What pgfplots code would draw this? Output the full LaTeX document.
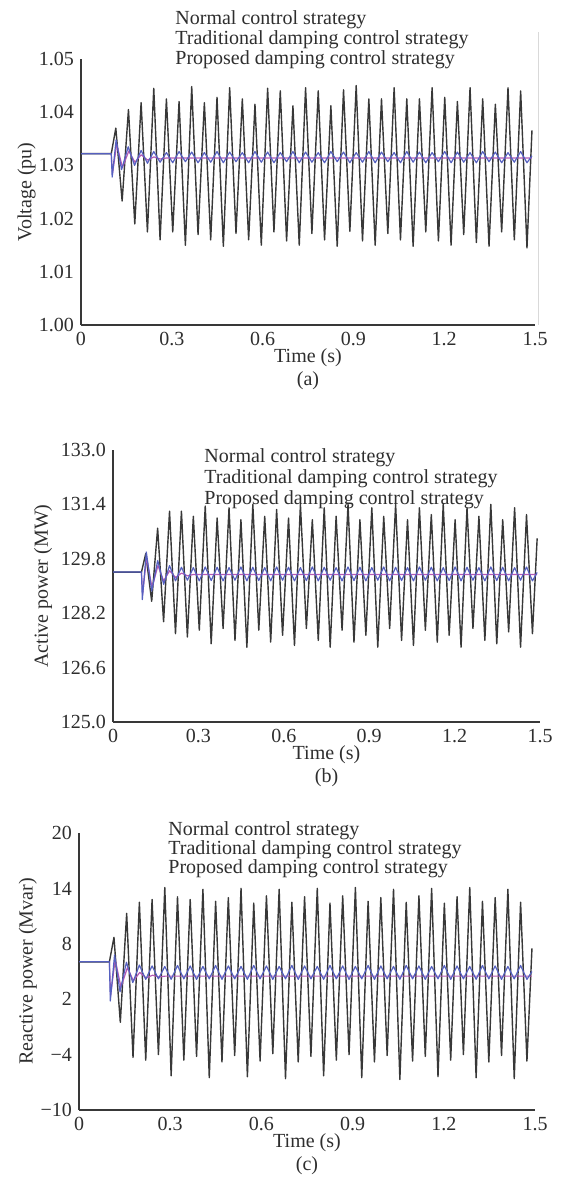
\documentclass[border=0pt]{standalone}
\usepackage{fontspec}
\setmainfont{Liberation Serif}
\usepackage{pgfplots}
\pgfplotsset{compat=1.18}
\definecolor{blk}{HTML}{383838}
\definecolor{trad}{HTML}{5560C0}
\definecolor{prop}{HTML}{B45AB4}
\definecolor{txt}{HTML}{2E2E2E}
\newcommand{\fs}{\fontsize{10}{10}\selectfont}
\pgfplotsset{
  panel/.style={
    scale only axis, axis lines=left, clip=false,
    axis line style={-, line width=0.8pt, color=blk},
    xmin=0, xmax=1.5,
    xtick={0,0.3,0.6,0.9,1.2,1.5},
    xticklabels={0,0.3,0.6,0.9,1.2,1.5},
    major tick length=0pt,
    tick label style={font=\fs, text=txt},
    label style={font=\fs, text=txt},
    /pgf/number format/assume math mode=true,
    xlabel={Time (s)},
    xlabel style={at={(axis description cs:0.5,0)}, anchor=center, yshift=-16.5pt},
    every axis plot/.append style={line width=0.6pt, line join=round},
  }
}
\begin{document}
\begin{tikzpicture}
\useasboundingbox (0,0) rectangle (287pt,589pt);
% ---------------- (a)
\begin{axis}[panel, at={(40.5pt,426.5pt)}, anchor=south west, width=227pt, height=133pt,
  ymin=1.00, ymax=1.05, ytick={1.00,1.01,1.02,1.03,1.04,1.05},
  yticklabels={1.00,1.01,1.02,1.03,1.04,1.05},
  ylabel={Voltage (pu)}, ylabel style={at={(axis description cs:-0.12,0.5)}, anchor=center}]
\draw[black!15, line width=0.6pt] (axis description cs:1.008,0) -- (axis description cs:1.008,1.1);
\addplot[blk, line width=0.7pt] coordinates {(0,1.0322)(0.100,1.0322)(0.1150,1.0370)(0.1359,1.0233)(0.1568,1.0405)(0.1777,1.0190)(0.1986,1.0418)(0.2195,1.0175)(0.2404,1.0445)(0.2613,1.0160)(0.2822,1.0425)(0.3031,1.0175)(0.3240,1.0420)(0.3449,1.0150)(0.3658,1.0448)(0.3867,1.0170)(0.4076,1.0418)(0.4285,1.0160)(0.4494,1.0428)(0.4703,1.0148)(0.4912,1.0446)(0.5121,1.0172)(0.5330,1.0425)(0.5539,1.0160)(0.5748,1.0415)(0.5957,1.0150)(0.6166,1.0445)(0.6375,1.0175)(0.6584,1.0440)(0.6793,1.0158)(0.7002,1.0412)(0.7211,1.0150)(0.7420,1.0446)(0.7629,1.0172)(0.7838,1.0440)(0.8047,1.0160)(0.8256,1.0412)(0.8465,1.0148)(0.8674,1.0442)(0.8883,1.0176)(0.9092,1.0450)(0.9301,1.0158)(0.9510,1.0425)(0.9719,1.0150)(0.9928,1.0425)(1.0137,1.0172)(1.0346,1.0446)(1.0555,1.0160)(1.0764,1.0425)(1.0973,1.0148)(1.1182,1.0425)(1.1391,1.0175)(1.1600,1.0446)(1.1809,1.0158)(1.2018,1.0428)(1.2227,1.0150)(1.2436,1.0420)(1.2645,1.0170)(1.2854,1.0446)(1.3063,1.0155)(1.3272,1.0425)(1.3481,1.0148)(1.3690,1.0415)(1.3899,1.0175)(1.4108,1.0446)(1.4317,1.0160)(1.4526,1.0440)(1.4735,1.0145)(1.4900,1.0366)};
\addplot[prop] coordinates {(0.100,1.0322)(0.1040,1.0284)(0.1180,1.0340)(0.1370,1.0296)(0.1580,1.0327)(0.1780,1.0306)(0.1990,1.0320)(0.2200,1.0310)(0.2410,1.0316)(0.2620,1.0312)(0.2830,1.0314)(1.4900,1.0314)};
\addplot[trad] coordinates {(0,1.0322)(0.100,1.0322)(0.1030,1.0278)(0.1160,1.0348)(0.1340,1.0292)(0.1560,1.0335)(0.1770,1.0300)(0.1986,1.0328)(0.2195,1.0304)(0.2404,1.0326)(0.2613,1.0306)(0.2822,1.0324)(0.3031,1.0305)(0.3240,1.0326)(0.3449,1.0307)(0.3658,1.0325)(0.3867,1.0305)(0.4076,1.0324)(0.4285,1.0306)(0.4494,1.0326)(0.4703,1.0305)(0.4912,1.0325)(0.5121,1.0307)(0.5330,1.0324)(0.5539,1.0305)(0.5748,1.0326)(0.5957,1.0306)(0.6166,1.0325)(0.6375,1.0305)(0.6584,1.0324)(0.6793,1.0307)(0.7002,1.0326)(0.7211,1.0305)(0.7420,1.0325)(0.7629,1.0306)(0.7838,1.0324)(0.8047,1.0305)(0.8256,1.0326)(0.8465,1.0307)(0.8674,1.0325)(0.8883,1.0305)(0.9092,1.0324)(0.9301,1.0306)(0.9510,1.0326)(0.9719,1.0305)(0.9928,1.0325)(1.0137,1.0307)(1.0346,1.0324)(1.0555,1.0305)(1.0764,1.0326)(1.0973,1.0306)(1.1182,1.0325)(1.1391,1.0305)(1.1600,1.0324)(1.1809,1.0307)(1.2018,1.0326)(1.2227,1.0305)(1.2436,1.0325)(1.2645,1.0306)(1.2854,1.0324)(1.3063,1.0305)(1.3272,1.0326)(1.3481,1.0307)(1.3690,1.0325)(1.3899,1.0305)(1.4108,1.0324)(1.4317,1.0306)(1.4526,1.0326)(1.4735,1.0305)(1.4900,1.0318)};
\node[font=\fs, text=txt] at (axis description cs:0.5,0) [yshift=-28pt] {(a)};
\end{axis}
\node[anchor=west, inner sep=0pt, font=\fs, text=txt] at (87.5pt,579pt) {Normal control strategy};
\node[anchor=west, inner sep=0pt, font=\fs, text=txt] at (87.5pt,569pt) {Traditional damping control strategy};
\node[anchor=west, inner sep=0pt, font=\fs, text=txt] at (87.5pt,559pt) {Proposed damping control strategy};
% ---------------- (b)
\begin{axis}[panel, at={(56.5pt,228pt)}, anchor=south west, width=213.5pt, height=136pt,
  ymin=125, ymax=133, ytick={125,126.6,128.2,129.8,131.4,133},
  yticklabels={125.0,126.6,128.2,129.8,131.4,133.0},
  ylabel={Active power (MW)}, ylabel style={at={(axis description cs:-0.164,0.5)}, anchor=center}]
\addplot[blk, line width=0.7pt] coordinates {(0,129.41)(0.100,129.41)(0.1150,129.95)(0.1359,128.55)(0.1568,130.70)(0.1777,127.95)(0.1986,131.20)(0.2195,127.60)(0.2404,131.20)(0.2613,127.50)(0.2822,131.05)(0.3031,127.70)(0.3240,131.35)(0.3449,127.30)(0.3658,131.00)(0.3867,127.75)(0.4076,131.30)(0.4285,127.40)(0.4494,130.95)(0.4703,127.20)(0.4912,131.40)(0.5121,127.70)(0.5330,131.05)(0.5539,127.35)(0.5748,131.25)(0.5957,127.55)(0.6166,131.00)(0.6375,127.25)(0.6584,131.40)(0.6793,127.75)(0.7002,130.95)(0.7211,127.40)(0.7420,131.30)(0.7629,127.20)(0.7838,131.05)(0.8047,127.70)(0.8256,131.40)(0.8465,127.35)(0.8674,130.95)(0.8883,127.55)(0.9092,131.30)(0.9301,127.20)(0.9510,131.05)(0.9719,127.75)(0.9928,131.40)(1.0137,127.40)(1.0346,130.95)(1.0555,127.25)(1.0764,131.30)(1.0973,127.70)(1.1182,131.10)(1.1391,127.35)(1.1600,131.40)(1.1809,127.55)(1.2018,130.95)(1.2227,127.20)(1.2436,131.30)(1.2645,127.75)(1.2854,131.05)(1.3063,127.40)(1.3272,131.40)(1.3481,127.30)(1.3690,130.95)(1.3899,127.65)(1.4108,131.30)(1.4317,127.20)(1.4526,131.10)(1.4735,127.60)(1.4900,130.40)};
\addplot[prop] coordinates {(0.100,129.41)(0.1040,128.75)(0.1180,129.85)(0.1370,128.95)(0.1580,129.60)(0.1780,129.15)(0.1990,129.45)(0.2200,129.25)(0.2410,129.38)(0.2620,129.30)(0.2830,129.34)(1.4900,129.34)};
\addplot[trad] coordinates {(0,129.41)(0.100,129.41)(0.1030,128.60)(0.1170,130.00)(0.1360,128.85)(0.1570,129.75)(0.1780,129.05)(0.1986,129.60)(0.2195,129.15)(0.2404,129.55)(0.2613,129.17)(0.2822,129.54)(0.3031,129.15)(0.3240,129.56)(0.3449,129.16)(0.3658,129.55)(0.3867,129.15)(0.4076,129.54)(0.4285,129.17)(0.4494,129.56)(0.4703,129.15)(0.4912,129.55)(0.5121,129.16)(0.5330,129.54)(0.5539,129.15)(0.5748,129.56)(0.5957,129.17)(0.6166,129.55)(0.6375,129.15)(0.6584,129.54)(0.6793,129.16)(0.7002,129.56)(0.7211,129.15)(0.7420,129.55)(0.7629,129.17)(0.7838,129.54)(0.8047,129.15)(0.8256,129.56)(0.8465,129.16)(0.8674,129.55)(0.8883,129.15)(0.9092,129.54)(0.9301,129.17)(0.9510,129.56)(0.9719,129.15)(0.9928,129.55)(1.0137,129.16)(1.0346,129.54)(1.0555,129.15)(1.0764,129.56)(1.0973,129.17)(1.1182,129.55)(1.1391,129.15)(1.1600,129.54)(1.1809,129.16)(1.2018,129.56)(1.2227,129.15)(1.2436,129.55)(1.2645,129.17)(1.2854,129.54)(1.3063,129.15)(1.3272,129.56)(1.3481,129.16)(1.3690,129.55)(1.3899,129.15)(1.4108,129.54)(1.4317,129.17)(1.4526,129.56)(1.4735,129.15)(1.4900,129.40)};
\node[font=\fs, text=txt] at (axis description cs:0.5,0) [yshift=-28pt] {(b)};
\end{axis}
\node[anchor=west, inner sep=0pt, font=\fs, text=txt] at (102pt,360pt) {Normal control strategy};
\node[anchor=west, inner sep=0pt, font=\fs, text=txt] at (102pt,349.5pt) {Traditional damping control strategy};
\node[anchor=west, inner sep=0pt, font=\fs, text=txt] at (102pt,339pt) {Proposed damping control strategy};
% ---------------- (c)
\begin{axis}[panel, at={(39.5pt,34pt)}, anchor=south west, width=228pt, height=138.5pt,
  ymin=-10, ymax=20, ytick={-10,-4,2,8,14,20},
  yticklabels={−10,−4,2,8,14,20},
  ylabel={Reactive power (Mvar)}, ylabel style={at={(axis description cs:-0.112,0.5)}, anchor=center}]
\addplot[blk, line width=0.7pt] coordinates {(0,6.05)(0.100,6.05)(0.1150,8.70)(0.1359,-0.50)(0.1568,11.30)(0.1777,-4.30)(0.1986,12.50)(0.2195,-4.60)(0.2404,12.80)(0.2613,-4.00)(0.2822,14.10)(0.3031,-6.30)(0.3240,13.10)(0.3449,-4.60)(0.3658,12.80)(0.3867,-4.20)(0.4076,13.90)(0.4285,-6.50)(0.4494,12.60)(0.4703,-4.80)(0.4912,13.00)(0.5121,-4.10)(0.5330,14.00)(0.5539,-6.40)(0.5748,12.40)(0.5957,-4.70)(0.6166,13.20)(0.6375,-3.90)(0.6584,13.90)(0.6793,-6.60)(0.7002,12.50)(0.7211,-4.80)(0.7420,13.10)(0.7629,-4.20)(0.7838,14.00)(0.8047,-6.30)(0.8256,12.40)(0.8465,-4.60)(0.8674,13.20)(0.8883,-4.00)(0.9092,14.10)(0.9301,-6.50)(0.9510,12.60)(0.9719,-4.80)(0.9928,13.00)(1.0137,-4.10)(1.0346,13.90)(1.0555,-6.70)(1.0764,12.50)(1.0973,-4.70)(1.1182,13.20)(1.1391,-4.20)(1.1600,14.00)(1.1809,-6.40)(1.2018,12.40)(1.2227,-4.60)(1.2436,13.10)(1.2645,-4.00)(1.2854,14.10)(1.3063,-6.50)(1.3272,12.60)(1.3481,-4.80)(1.3690,13.00)(1.3899,-4.10)(1.4108,13.90)(1.4317,-6.60)(1.4526,12.50)(1.4735,-4.70)(1.4900,7.50)};
\addplot[prop] coordinates {(0.100,6.05)(0.1040,2.40)(0.1190,6.30)(0.1380,3.30)(0.1590,5.40)(0.1790,4.00)(0.2000,4.90)(0.2210,4.30)(0.2420,4.60)(0.2630,4.40)(0.2840,4.50)(1.4900,4.50)};
\addplot[trad] coordinates {(0,6.05)(0.100,6.05)(0.1030,1.80)(0.1170,6.80)(0.1350,2.80)(0.1560,6.00)(0.1770,3.80)(0.1986,5.70)(0.2195,4.15)(0.2404,5.60)(0.2613,4.20)(0.2822,5.55)(0.3031,4.15)(0.3240,5.65)(0.3449,4.20)(0.3658,5.60)(0.3867,4.15)(0.4076,5.55)(0.4285,4.20)(0.4494,5.65)(0.4703,4.15)(0.4912,5.60)(0.5121,4.20)(0.5330,5.55)(0.5539,4.15)(0.5748,5.65)(0.5957,4.20)(0.6166,5.60)(0.6375,4.15)(0.6584,5.55)(0.6793,4.20)(0.7002,5.65)(0.7211,4.15)(0.7420,5.60)(0.7629,4.20)(0.7838,5.55)(0.8047,4.15)(0.8256,5.65)(0.8465,4.20)(0.8674,5.60)(0.8883,4.15)(0.9092,5.55)(0.9301,4.20)(0.9510,5.65)(0.9719,4.15)(0.9928,5.60)(1.0137,4.20)(1.0346,5.55)(1.0555,4.15)(1.0764,5.65)(1.0973,4.20)(1.1182,5.60)(1.1391,4.15)(1.1600,5.55)(1.1809,4.20)(1.2018,5.65)(1.2227,4.15)(1.2436,5.60)(1.2645,4.20)(1.2854,5.55)(1.3063,4.15)(1.3272,5.65)(1.3481,4.20)(1.3690,5.60)(1.3899,4.15)(1.4108,5.55)(1.4317,4.20)(1.4526,5.65)(1.4735,4.15)(1.4900,5.00)};
\node[font=\fs, text=txt] at (axis description cs:0.5,0) [yshift=-28pt] {(c)};
\end{axis}
\node[anchor=west, inner sep=0pt, font=\fs, text=txt] at (84pt,173.5pt) {Normal control strategy};
\node[anchor=west, inner sep=0pt, font=\fs, text=txt] at (84pt,164pt) {Traditional damping control strategy};
\node[anchor=west, inner sep=0pt, font=\fs, text=txt] at (84pt,154.5pt) {Proposed damping control strategy};
\end{tikzpicture}
\end{document}
